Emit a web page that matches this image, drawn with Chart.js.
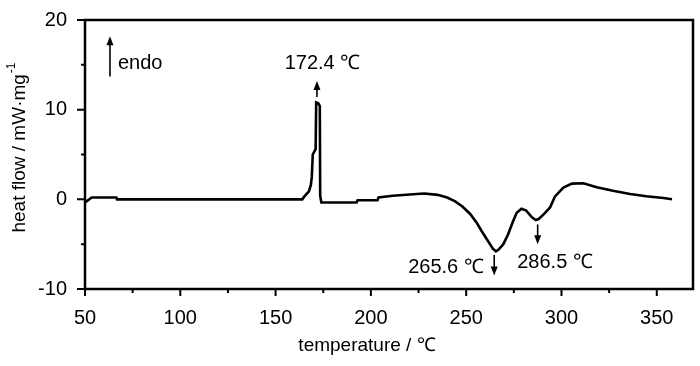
<!DOCTYPE html>
<html>
<head>
<meta charset="utf-8">
<script src="https://cdn.jsdelivr.net/npm/chart.js@4/dist/chart.umd.min.js"></script>
<style>
  body { margin: 0; background: #fff; }
</style>
</head>
<body>
<canvas id="dsc" width="700" height="366"></canvas>
<script>
// DSC curve
var tempC = [50, 51, 53.5, 66.5, 66.8, 164, 165, 167.5, 168.5, 169, 169.5, 171, 171.3, 172.4, 173.2, 173.4, 174,
  192.5, 193, 203.5, 204, 211.5, 224, 228, 235, 240, 244, 248, 252, 255.5, 258, 261, 264, 265.6, 267, 269.5,
  272, 274.7, 276.5, 279, 281.5, 284.5, 286.5, 288, 290.5, 294, 296.5, 301, 305.5, 311.5, 318.5, 327, 336,
  344.5, 353.5, 358];
var heatFlow = [-0.3, -0.2, 0.2, 0.2, 0.0, 0.0, 0.3, 0.9, 1.6, 2.5, 5.0, 5.6, 10.8, 10.7, 10.4, 0.4, -0.35,
  -0.35, -0.1, -0.1, 0.2, 0.4, 0.6, 0.65, 0.5, 0.2, -0.2, -0.8, -1.6, -2.6, -3.5, -4.5, -5.5, -5.8, -5.6, -5.0,
  -3.9, -2.4, -1.5, -1.05, -1.25, -2.0, -2.3, -2.2, -1.7, -0.9, 0.3, 1.3, 1.75, 1.8, 1.35, 0.95, 0.6,
  0.35, 0.15, 0.0];

var xTicks = [50, 100, 150, 200, 250, 300, 350];
var xMinor = [75, 125, 175, 225, 275, 325];
var yTicks = [-10, 0, 10, 20];
var yMinor = [-5, 5, 15];

var peakLabels = ['172.4 \u2103', '265.6 \u2103', '286.5 \u2103'];
var peakTemps = [172.4, 265.6, 286.5];

var FONT = "'Liberation Sans', Arial, sans-serif";

var points = tempC.map(function (t, i) { return { x: t, y: heatFlow[i] }; });

function arrow(ctx, x, y1, y2) {
  // line from y1 to y2, head at y2
  var dir = y2 > y1 ? 1 : -1;
  ctx.beginPath();
  ctx.moveTo(x, y1);
  ctx.lineTo(x, y2 - dir * 6);
  ctx.stroke();
  ctx.beginPath();
  ctx.moveTo(x, y2);
  ctx.lineTo(x - 3.5, y2 - dir * 9);
  ctx.lineTo(x + 3.5, y2 - dir * 9);
  ctx.closePath();
  ctx.fill();
}

var frame = {
  id: 'frame',
  afterDraw: function (chart) {
    var ctx = chart.ctx, a = chart.chartArea;
    var xs = chart.scales.x, ys = chart.scales.y;
    ctx.save();
    ctx.strokeStyle = '#000';
    ctx.fillStyle = '#000';
    ctx.lineWidth = 2.5;
    ctx.strokeRect(a.left, a.top, a.right - a.left, a.bottom - a.top);

    // tick marks
    ctx.lineWidth = 2;
    ctx.beginPath();
    xTicks.forEach(function (v) {
      var p = xs.getPixelForValue(v);
      ctx.moveTo(p, a.bottom); ctx.lineTo(p, a.bottom + 7);
    });
    xMinor.forEach(function (v) {
      var p = xs.getPixelForValue(v);
      ctx.moveTo(p, a.bottom); ctx.lineTo(p, a.bottom + 4);
    });
    yTicks.forEach(function (v) {
      var p = ys.getPixelForValue(v);
      ctx.moveTo(a.left, p); ctx.lineTo(a.left - 8, p);
    });
    yMinor.forEach(function (v) {
      var p = ys.getPixelForValue(v);
      ctx.moveTo(a.left, p); ctx.lineTo(a.left - 4, p);
    });
    ctx.stroke();

    // annotations
    ctx.lineWidth = 1.6;
    ctx.font = '20px ' + FONT;
    ctx.textBaseline = 'middle';
    ctx.textAlign = 'center';

    // endo marker
    arrow(ctx, xs.getPixelForValue(63.1), ys.getPixelForValue(13.7), ys.getPixelForValue(18.2));
    ctx.textAlign = 'left';
    ctx.fillText('endo', xs.getPixelForValue(67.3), ys.getPixelForValue(15.1));
    ctx.textAlign = 'center';

    // 172.4
    arrow(ctx, xs.getPixelForValue(peakTemps[0] - 0.7), ys.getPixelForValue(11.4), ys.getPixelForValue(13.2));
    ctx.fillText(peakLabels[0], xs.getPixelForValue(174.6), ys.getPixelForValue(15.1));
    // 265.6
    arrow(ctx, xs.getPixelForValue(peakTemps[1] - 0.9), ys.getPixelForValue(-6.2), ys.getPixelForValue(-8.5));
    ctx.fillText(peakLabels[1], xs.getPixelForValue(239.4), ys.getPixelForValue(-7.6));
    // 286.5
    arrow(ctx, xs.getPixelForValue(peakTemps[2] + 1.0), ys.getPixelForValue(-2.8), ys.getPixelForValue(-5.0));
    ctx.fillText(peakLabels[2], xs.getPixelForValue(296.6), ys.getPixelForValue(-7.0));

    // x axis title
    ctx.font = '19px ' + FONT;
    ctx.fillText('temperature / \u2103', 367, 346);

    // y axis title with superscript
    var main = 'heat flow / mW\u00b7mg', sup = '-1';
    ctx.font = '19px ' + FONT;
    var w1 = ctx.measureText(main).width;
    ctx.font = '12px ' + FONT;
    var w2 = ctx.measureText(sup).width;
    ctx.translate(20, 148);
    ctx.rotate(-Math.PI / 2);
    ctx.textAlign = 'left';
    ctx.textBaseline = 'middle';
    var x0 = -(w1 + w2) / 2;
    ctx.font = '19px ' + FONT;
    ctx.fillText(main, x0, 0);
    ctx.font = '12px ' + FONT;
    ctx.fillText(sup, x0 + w1 + 1, -8);
    ctx.restore();
  }
};

var ctx = document.getElementById('dsc').getContext('2d');
var chart = new Chart(ctx, {
  type: 'scatter',
  data: {
    datasets: [{
      data: points,
      showLine: true,
      borderColor: '#000',
      borderWidth: 2.6,
      pointRadius: 0,
      tension: 0
    }]
  },
  options: {
    responsive: false,
    animation: false,
    devicePixelRatio: 1,
    layout: { padding: { top: 20, right: 7, left: 0, bottom: 0 } },
    plugins: { legend: { display: false }, tooltip: { enabled: false } },
    scales: {
      x: {
        type: 'linear',
        min: 50,
        max: 369,
        afterBuildTicks: function (s) { s.ticks = xTicks.map(function (v) { return { value: v }; }); },
        afterFit: function (s) { s.height = 77; s.paddingLeft = 0; s.paddingRight = 0; },
        grid: { display: false, drawTicks: false },
        border: { display: false },
        ticks: { color: '#000', font: { family: FONT, size: 20 }, padding: 17, maxRotation: 0 }
      },
      y: {
        min: -10,
        max: 20,
        afterBuildTicks: function (s) { s.ticks = yTicks.map(function (v) { return { value: v }; }); },
        afterFit: function (s) { s.width = 85; s.paddingTop = 0; s.paddingBottom = 0; },
        grid: { display: false, drawTicks: false },
        border: { display: false },
        ticks: { color: '#000', font: { family: FONT, size: 20 }, padding: 18 }
      }
    }
  },
  plugins: [frame]
});
</script>
</body>
</html>
